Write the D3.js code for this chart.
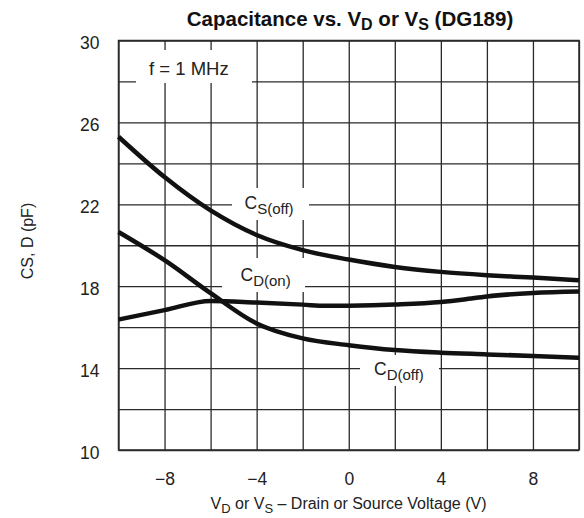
<!DOCTYPE html>
<html><head><meta charset="utf-8">
<script src="https://cdn.jsdelivr.net/npm/d3@7"></script>
<style>
body{margin:0;background:#fff;}
svg{display:block;font-family:"Liberation Sans",Arial,Helvetica,sans-serif;}
</style></head>
<body><svg id="c" width="584" height="518"></svg>
<script>
// ---- data ----
const xCSoff = [-10,-8,-6,-4,-2,0,2,4,6,8,10];
const yCSoff = [25.3,23.33,21.7,20.5,19.76,19.3,18.94,18.7,18.54,18.42,18.29];
const xCDoff = [-10,-8,-6,-4,-2,0,2,4,6,8,10];
const yCDoff = [20.65,19.27,17.66,16.18,15.45,15.12,14.88,14.75,14.67,14.59,14.5];
const xCDon = [-10,-8,-6,-4,-2,-1,0,2,4,5,6,8,10];
const yCDon = [16.37,16.83,17.28,17.2,17.1,17.04,17.05,17.11,17.23,17.35,17.5,17.67,17.74];
const xTicks = [-8,-4,0,4,8];
const yTicks = [10,14,18,22,26,30];
const xGrid = d3.range(-10,10.01,2);
const yGrid = d3.range(10,30.01,2);

const L=118.5, R=579, T=40.5, B=450;
const svg = d3.select("#c");
const x = d3.scaleLinear().domain([-10,10]).range([L,R]);
const y = d3.scaleLinear().domain([10,30]).range([B,T]);

// grid
const g = svg.append("g");
g.append("g").attr("transform",`translate(0,${B})`)
  .call(d3.axisBottom(x).tickValues(xGrid).tickSize(-(B-T)).tickFormat(""))
  .call(s=>{s.select(".domain").remove();s.selectAll("line").attr("stroke","#2a2a2a").attr("stroke-width",1.3);});
g.append("g").attr("transform",`translate(${L},0)`)
  .call(d3.axisLeft(y).tickValues(yGrid).tickSize(-(R-L)).tickFormat(""))
  .call(s=>{s.select(".domain").remove();s.selectAll("line").attr("stroke","#2a2a2a").attr("stroke-width",1.3);});
g.append("rect").attr("x",L).attr("y",T).attr("width",R-L).attr("height",B-T)
  .attr("fill","none").attr("stroke","#2a2a2a").attr("stroke-width",1.5);

// label boxes (break grid)
const boxes = [[136,50,116,33],[232,188,77,32],[222,258,83,34],[360,355,79,31]];
svg.selectAll("rect.bx").data(boxes).join("rect").attr("class","bx")
  .attr("x",d=>d[0]).attr("y",d=>d[1]).attr("width",d=>d[2]).attr("height",d=>d[3]).attr("fill","#fff");

// curves
const line = d3.line().x(d=>x(d[0])).y(d=>y(d[1])).curve(d3.curveMonotoneX);
[[xCSoff,yCSoff],[xCDoff,yCDoff],[xCDon,yCDon]].forEach(([xs,ys])=>{
  svg.append("path").datum(xs.map((v,i)=>[v,ys[i]])).attr("d",line)
    .attr("fill","none").attr("stroke","#111").attr("stroke-width",4.5).attr("stroke-linecap","butt");
});

// axes labels
svg.append("g").attr("transform",`translate(0,${B})`)
  .call(d3.axisBottom(x).tickValues(xTicks).tickSize(0).tickPadding(0).tickFormat(d=>d<0?"\u2212"+Math.abs(d):d))
  .call(s=>{s.select(".domain").remove();s.selectAll("text").attr("font-size",17.5).attr("font-family","Liberation Sans, Arial").attr("fill","#222").attr("dy",null).attr("y",34.5);});
svg.append("g").attr("transform",`translate(${L},0)`)
  .call(d3.axisLeft(y).tickValues(yTicks).tickSize(0).tickPadding(0))
  .call(s=>{s.select(".domain").remove();s.selectAll("text").attr("font-size",17.5).attr("font-family","Liberation Sans, Arial").attr("fill","#222").attr("x",-19).attr("dy","0.62em").attr("y",-2.5);});

// title
const t = svg.append("text").attr("x",350).attr("y",26).attr("text-anchor","middle")
  .attr("font-size",20.5).attr("font-weight","bold").attr("fill","#111");
t.append("tspan").text("Capacitance vs. V");
t.append("tspan").text("D").attr("dy",4).attr("font-size",16);
t.append("tspan").text(" or V").attr("dy",-4);
t.append("tspan").text("S").attr("dy",4).attr("font-size",16);
t.append("tspan").text(" (DG189)").attr("dy",-4);

// x axis title
const xt = svg.append("text").attr("x",348.5).attr("y",509).attr("text-anchor","middle")
  .attr("font-size",16).attr("fill","#222");
xt.append("tspan").text("V");
xt.append("tspan").text("D").attr("dy",4).attr("font-size",13);
xt.append("tspan").text(" or V").attr("dy",-4);
xt.append("tspan").text("S").attr("dy",4).attr("font-size",13);
xt.append("tspan").text(" \u2013 Drain or Source Voltage (V)").attr("dy",-4);

// y axis title
svg.append("text").attr("transform","translate(33,241) rotate(-90)").attr("text-anchor","middle")
  .attr("font-size",16).attr("fill","#222").text("CS, D (pF)");

// in-plot labels
svg.append("text").attr("x",149).attr("y",75).attr("font-size",18.5).attr("fill","#222").text("f = 1 MHz");
function clabel(px,py,sub){
  const tx = svg.append("text").attr("x",px).attr("y",py).attr("font-size",17.5).attr("fill","#222");
  tx.append("tspan").text("C");
  tx.append("tspan").text(sub).attr("dy",5).attr("font-size",15);
}
clabel(244.5,208.5,"S(off)");
clabel(240.5,280.5,"D(on)");
clabel(374,375,"D(off)");
</script></body></html>
